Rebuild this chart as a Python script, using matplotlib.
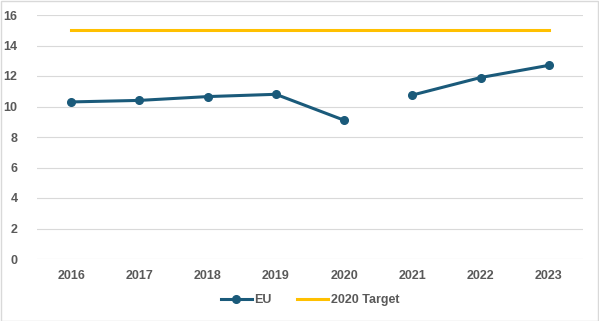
import matplotlib
matplotlib.use("Agg")
import matplotlib.pyplot as plt
import numpy as np
from matplotlib.patches import Rectangle

years = ["2016", "2017", "2018", "2019", "2020", "2021", "2022", "2023"]
eu = [10.3, 10.4, 10.65, 10.8, 9.1, 10.75, 11.9, 12.7]
target = [15, 15, 15, 15, 15, 15, 15, 15]
yticks = [0, 2, 4, 6, 8, 10, 12, 14, 16]

plt.rcParams['font.family'] = ['Liberation Sans', 'DejaVu Sans']
fig = plt.figure(figsize=(5.99, 3.21), dpi=100)
fig.patches.append(Rectangle((0.5/599, 0.5/321), 1 - 1.5/599, 1 - 1.5/321, transform=fig.transFigure,
                             fill=False, edgecolor="#d9d9d9", linewidth=1.0))
ax = fig.add_axes([37/599, 1 - 259/321, 546/599, 244/321])

x = np.arange(len(years))
ax.plot(x[:5], eu[:5], color="#1a5a7a", lw=2.2, marker="o", ms=5.5, label="EU")
ax.plot(x[5:], eu[5:], color="#1a5a7a", lw=2.2, marker="o", ms=5.5)
ax.plot(x, target, color="#ffc000", lw=2.2, label="2020 Target")

ax.set_xlim(-0.5, len(years) - 0.5)
ax.set_ylim(0, 16)
ax.set_yticks(yticks)
ax.set_xticks(x)
ax.set_xticklabels(years)
ax.grid(axis="y", color="#d9d9d9", lw=0.8)
ax.set_axisbelow(True)
for s in ax.spines.values():
    s.set_visible(False)
ax.tick_params(length=0, labelsize=9, labelcolor="#595959")
for lab in ax.get_xticklabels() + ax.get_yticklabels():
    lab.set_fontweight("bold")
ax.tick_params(axis="y", pad=14)
ax.tick_params(axis="x", pad=8)

leg = ax.legend(loc="center", bbox_to_anchor=(0.5, -0.17), ncol=2, frameon=False,
                prop={"size": 9, "weight": "bold"}, handlelength=2.5, columnspacing=2.0,
                handletextpad=0.2, labelcolor="#595959")
fig.savefig("out.png", dpi=100)
